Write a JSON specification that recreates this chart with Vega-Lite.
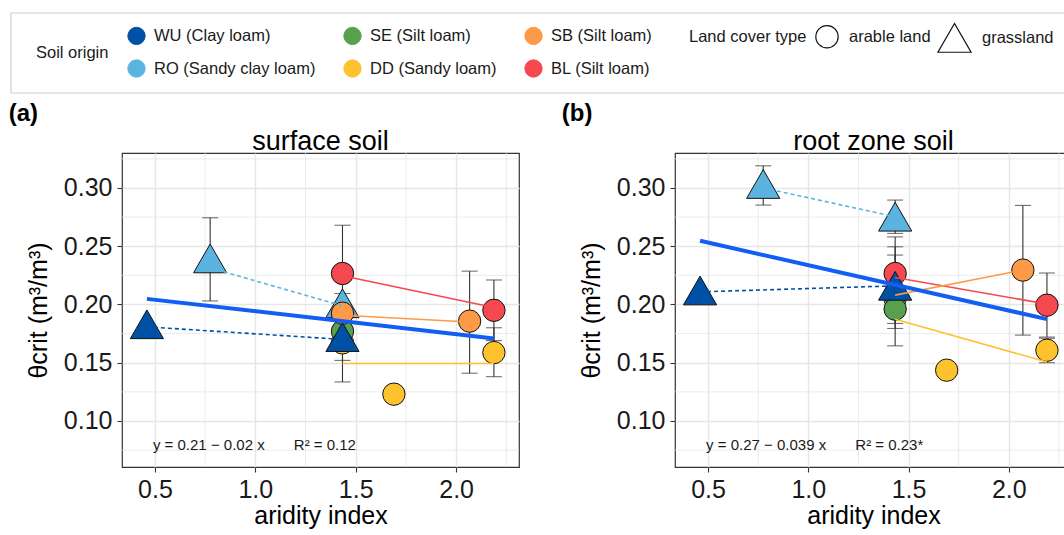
{
  "$schema": "https://vega.github.io/schema/vega-lite/v6.json",
  "background": "white",
  "padding": {"left": 8, "top": 12, "right": 0, "bottom": 0},
  "config": {
    "font": "Liberation Sans",
    "view": {"stroke": "#333333", "strokeWidth": 1.2},
    "axis": {
      "labelFont": "Liberation Sans", "labelFontSize": 25, "labelColor": "#1a1a1a", "labelOverlap": false,
      "titleFont": "Liberation Sans", "titleFontSize": 25, "titleFontWeight": "normal", "titleColor": "#000000",
      "tickColor": "#333333", "tickSize": 5, "tickWidth": 1.1, "domain": false,
      "gridColor": "#e6e6e6", "gridWidth": 1.4, "labelPadding": 5
    },
    "legend": {
      "labelFont": "Liberation Sans", "titleFont": "Liberation Sans",
      "labelFontSize": 16.5, "titleFontSize": 16.5, "titleFontWeight": "normal",
      "labelColor": "#1a1a1a", "titleColor": "#1a1a1a", "labelLimit": 300
    },
    "title": {"font": "Liberation Sans", "fontWeight": "normal", "color": "#000000"}
  },
  "datasets": {
    "gx": [{"g": 0.75}, {"g": 1.25}, {"g": 1.75}, {"g": 2.25}],
    "gy": [{"g": 0.075}, {"g": 0.125}, {"g": 0.175}, {"g": 0.225}, {"g": 0.275}, {"g": 0.325}],
    "pts": [
      {"panel": "a", "soil": "WU (Clay loam)", "cover": "grassland", "ai": 0.46, "theta": 0.183, "lo": null, "hi": null},
      {"panel": "a", "soil": "RO (Sandy clay loam)", "cover": "grassland", "ai": 0.775, "theta": 0.2395, "lo": 0.203, "hi": 0.2744},
      {"panel": "a", "soil": "DD (Sandy loam)", "cover": "arable land", "ai": 1.434, "theta": 0.167, "lo": 0.1335, "hi": 0.2},
      {"panel": "a", "soil": "SE (Silt loam)", "cover": "arable land", "ai": 1.434, "theta": 0.177, "lo": 0.17, "hi": 0.184},
      {"panel": "a", "soil": "RO (Sandy clay loam)", "cover": "grassland", "ai": 1.434, "theta": 0.201, "lo": 0.193, "hi": 0.2094},
      {"panel": "a", "soil": "SB (Silt loam)", "cover": "arable land", "ai": 1.434, "theta": 0.1925, "lo": 0.185, "hi": 0.2},
      {"panel": "a", "soil": "BL (Silt loam)", "cover": "arable land", "ai": 1.434, "theta": 0.2266, "lo": 0.186, "hi": 0.268},
      {"panel": "a", "soil": "WU (Clay loam)", "cover": "grassland", "ai": 1.434, "theta": 0.172, "lo": 0.152, "hi": 0.192},
      {"panel": "a", "soil": "DD (Sandy loam)", "cover": "arable land", "ai": 1.69, "theta": 0.123, "lo": null, "hi": null},
      {"panel": "a", "soil": "SB (Silt loam)", "cover": "arable land", "ai": 2.067, "theta": 0.1857, "lo": 0.141, "hi": 0.2286},
      {"panel": "a", "soil": "BL (Silt loam)", "cover": "arable land", "ai": 2.188, "theta": 0.195, "lo": 0.169, "hi": 0.221},
      {"panel": "a", "soil": "DD (Sandy loam)", "cover": "arable land", "ai": 2.188, "theta": 0.1587, "lo": 0.138, "hi": 0.18},
      {"panel": "b", "soil": "WU (Clay loam)", "cover": "grassland", "ai": 0.46, "theta": 0.212, "lo": null, "hi": null},
      {"panel": "b", "soil": "RO (Sandy clay loam)", "cover": "grassland", "ai": 0.775, "theta": 0.3034, "lo": 0.2853, "hi": 0.319},
      {"panel": "b", "soil": "DD (Sandy loam)", "cover": "arable land", "ai": 1.433, "theta": 0.205, "lo": 0.19, "hi": 0.22},
      {"panel": "b", "soil": "SB (Silt loam)", "cover": "arable land", "ai": 1.433, "theta": 0.208, "lo": 0.1794, "hi": 0.2424},
      {"panel": "b", "soil": "SE (Silt loam)", "cover": "arable land", "ai": 1.433, "theta": 0.196, "lo": 0.1645, "hi": 0.227},
      {"panel": "b", "soil": "BL (Silt loam)", "cover": "arable land", "ai": 1.433, "theta": 0.2266, "lo": 0.195, "hi": 0.258},
      {"panel": "b", "soil": "RO (Sandy clay loam)", "cover": "grassland", "ai": 1.433, "theta": 0.2753, "lo": 0.261, "hi": 0.2896},
      {"panel": "b", "soil": "WU (Clay loam)", "cover": "grassland", "ai": 1.433, "theta": 0.216, "lo": 0.1837, "hi": 0.2495},
      {"panel": "b", "soil": "DD (Sandy loam)", "cover": "arable land", "ai": 1.69, "theta": 0.1436, "lo": null, "hi": null},
      {"panel": "b", "soil": "SB (Silt loam)", "cover": "arable land", "ai": 2.07, "theta": 0.2295, "lo": 0.1737, "hi": 0.285},
      {"panel": "b", "soil": "BL (Silt loam)", "cover": "arable land", "ai": 2.19, "theta": 0.1994, "lo": 0.172, "hi": 0.227},
      {"panel": "b", "soil": "DD (Sandy loam)", "cover": "arable land", "ai": 2.19, "theta": 0.1607, "lo": 0.15, "hi": 0.171}
    ],
    "lns": [
      {"panel": "a", "soil": "RO (Sandy clay loam)", "landcover": "grassland", "ai": 0.775, "theta": 0.2314},
      {"panel": "a", "soil": "RO (Sandy clay loam)", "landcover": "grassland", "ai": 1.434, "theta": 0.1988},
      {"panel": "a", "soil": "WU (Clay loam)", "landcover": "grassland", "ai": 0.46, "theta": 0.1808},
      {"panel": "a", "soil": "WU (Clay loam)", "landcover": "grassland", "ai": 1.434, "theta": 0.170},
      {"panel": "a", "soil": "BL (Silt loam)", "landcover": "arable land", "ai": 1.434, "theta": 0.2246},
      {"panel": "a", "soil": "BL (Silt loam)", "landcover": "arable land", "ai": 2.188, "theta": 0.1974},
      {"panel": "a", "soil": "SB (Silt loam)", "landcover": "arable land", "ai": 1.434, "theta": 0.1908},
      {"panel": "a", "soil": "SB (Silt loam)", "landcover": "arable land", "ai": 2.067, "theta": 0.185},
      {"panel": "a", "soil": "DD (Sandy loam)", "landcover": "arable land", "ai": 1.434, "theta": 0.1493},
      {"panel": "a", "soil": "DD (Sandy loam)", "landcover": "arable land", "ai": 2.188, "theta": 0.1493},
      {"panel": "b", "soil": "RO (Sandy clay loam)", "landcover": "grassland", "ai": 0.775, "theta": 0.300},
      {"panel": "b", "soil": "RO (Sandy clay loam)", "landcover": "grassland", "ai": 1.433, "theta": 0.2753},
      {"panel": "b", "soil": "WU (Clay loam)", "landcover": "grassland", "ai": 0.46, "theta": 0.2108},
      {"panel": "b", "soil": "WU (Clay loam)", "landcover": "grassland", "ai": 1.433, "theta": 0.216},
      {"panel": "b", "soil": "BL (Silt loam)", "landcover": "arable land", "ai": 1.433, "theta": 0.2232},
      {"panel": "b", "soil": "BL (Silt loam)", "landcover": "arable land", "ai": 2.19, "theta": 0.2003},
      {"panel": "b", "soil": "SB (Silt loam)", "landcover": "arable land", "ai": 1.433, "theta": 0.208},
      {"panel": "b", "soil": "SB (Silt loam)", "landcover": "arable land", "ai": 2.07, "theta": 0.2295},
      {"panel": "b", "soil": "DD (Sandy loam)", "landcover": "arable land", "ai": 1.433, "theta": 0.1874},
      {"panel": "b", "soil": "DD (Sandy loam)", "landcover": "arable land", "ai": 2.19, "theta": 0.1506}
    ],
    "fits": [
      {"panel": "a", "ai": 0.46, "theta": 0.2048},
      {"panel": "a", "ai": 2.188, "theta": 0.1708},
      {"panel": "b", "ai": 0.46, "theta": 0.2547},
      {"panel": "b", "ai": 2.19, "theta": 0.1874}
    ],
    "eqs": [
      {"panel": "a", "label": "y = 0.21 − 0.02 x\u00a0\u00a0\u00a0\u00a0\u00a0\u00a0\u00a0R² = 0.12", "ai": 0.49, "theta": 0.0795},
      {"panel": "b", "label": "y = 0.27 − 0.039 x\u00a0\u00a0\u00a0\u00a0\u00a0\u00a0\u00a0R² = 0.23*", "ai": 0.49, "theta": 0.0795}
    ]
  },
  "spacing": 8,
  "vconcat": [
    {
      "width": 949, "height": 80,
      "view": {"stroke": null},
      "data": {"values": [{"k": 1}]},
      "mark": {"type": "rect", "fill": "white", "fillOpacity": 0, "stroke": "#cfcfcf", "strokeWidth": 1.2, "clip": false},
      "encoding": {
        "x": {"datum": -0.117, "type": "quantitative", "scale": {"domain": [0, 1], "nice": false, "zero": false}, "axis": null},
        "x2": {"datum": 1},
        "y": {"datum": 0, "type": "quantitative", "scale": {"domain": [0, 1], "nice": false, "zero": false}, "axis": null},
        "y2": {"datum": 1}
      }
    },
    {
      "spacing": 41,
      "hconcat": [
        {
          "title": {"text": "(a)", "anchor": "start", "fontSize": 24, "fontWeight": "bold", "dx": -17, "offset": 1},
          "vconcat": [
            {
              "title": {"text": "surface soil", "anchor": "middle", "fontSize": 27, "offset": -3},
              "width": 397, "height": 314,
              "layer": [
                {
                  "data": {"name": "gx"},
                  "mark": {"type": "rule", "color": "#e6e6e6", "strokeWidth": 0.8},
                  "encoding": {
                    "x": {"field": "g", "type": "quantitative", "scale": {"domain": [0.336, 2.313], "nice": false, "zero": false},
                      "axis": {"values": [0.5, 1, 1.5, 2], "format": ".1f", "title": "aridity index", "titlePadding": 1}}
                  }
                },
                {
                  "data": {"name": "gy"},
                  "mark": {"type": "rule", "color": "#e6e6e6", "strokeWidth": 0.8},
                  "encoding": {
                    "y": {"field": "g", "type": "quantitative", "scale": {"domain": [0.0605, 0.33], "nice": false, "zero": false},
                      "axis": {"values": [0.1, 0.15, 0.2, 0.25, 0.3], "format": ".2f", "title": "θcrit (m³/m³)", "titlePadding": 12}}
                  }
                },
                {
                  "data": {"name": "pts"},
                  "transform": [{"filter": "datum.panel == 'a' && isValid(datum.lo)"}],
                  "mark": {"type": "rule", "color": "#333333", "strokeWidth": 1.1},
                  "encoding": {"x": {"field": "ai", "type": "quantitative"}, "y": {"field": "lo", "type": "quantitative"}, "y2": {"field": "hi"}}
                },
                {
                  "data": {"name": "pts"},
                  "transform": [{"filter": "datum.panel == 'a' && isValid(datum.lo)"}],
                  "mark": {"type": "tick", "orient": "horizontal", "color": "#333333", "size": 16, "thickness": 1.1},
                  "encoding": {"x": {"field": "ai", "type": "quantitative"}, "y": {"field": "lo", "type": "quantitative"}}
                },
                {
                  "data": {"name": "pts"},
                  "transform": [{"filter": "datum.panel == 'a' && isValid(datum.hi)"}],
                  "mark": {"type": "tick", "orient": "horizontal", "color": "#333333", "size": 16, "thickness": 1.1},
                  "encoding": {"x": {"field": "ai", "type": "quantitative"}, "y": {"field": "hi", "type": "quantitative"}}
                },
                {
                  "data": {"name": "pts"},
                  "transform": [{"filter": "datum.panel == 'a'"}],
                  "mark": {"type": "point", "filled": true, "stroke": "#111111", "strokeWidth": 1, "opacity": 1},
                  "encoding": {
                    "x": {"field": "ai", "type": "quantitative"},
                    "y": {"field": "theta", "type": "quantitative"},
                    "fill": {"field": "soil", "type": "nominal",
                      "scale": {"domain": ["WU (Clay loam)", "SE (Silt loam)", "SB (Silt loam)", "RO (Sandy clay loam)", "DD (Sandy loam)", "BL (Silt loam)"],
                        "range": ["#0051a5", "#57a14e", "#fd9a47", "#5bb4e0", "#fdc22d", "#f5484f"]},
                      "legend": {"title": "Soil origin", "orient": "none", "legendX": -86, "legendY": 13, "direction": "horizontal", "columns": 3, "gridAlign": "each",
                        "titleOrient": "left", "titlePadding": 18, "symbolType": "circle", "symbolSize": 300, "symbolStrokeColor": "#111111", "symbolStrokeWidth": 1,
                        "rowPadding": 10, "columnPadding": 25, "labelOffset": 8}},
                    "shape": {"field": "cover", "type": "nominal", "scale": {"domain": ["arable land", "grassland"], "range": ["circle", "triangle-up"]},
                      "legend": {"title": "Land cover type", "orient": "none", "legendX": 567, "legendY": 7, "direction": "horizontal", "titleOrient": "left", "titlePadding": 8,
                        "symbolFillColor": "white", "symbolStrokeColor": "#111111", "symbolStrokeWidth": 1.2, "symbolDash": [], "columnPadding": 4, "labelOffset": 10}},
                    "size": {"field": "cover", "type": "nominal", "scale": {"domain": ["arable land", "grassland"], "range": [500, 1100]},
                      "legend": {"title": "Land cover type", "orient": "none", "legendX": 567, "legendY": 7, "direction": "horizontal", "titleOrient": "left", "titlePadding": 8,
                        "symbolFillColor": "white", "symbolStrokeColor": "#111111", "symbolStrokeWidth": 1.2, "symbolDash": [], "columnPadding": 4, "labelOffset": 10}}
                  }
                },
                {
                  "data": {"name": "lns"},
                  "transform": [{"filter": "datum.panel == 'a' && datum.landcover == 'arable land'"}],
                  "mark": {"type": "line", "strokeWidth": 1.6},
                  "encoding": {
                    "x": {"field": "ai", "type": "quantitative"},
                    "y": {"field": "theta", "type": "quantitative"},
                    "stroke": {"field": "soil", "type": "nominal", "legend": null,
                      "scale": {"domain": ["WU (Clay loam)", "SE (Silt loam)", "SB (Silt loam)", "RO (Sandy clay loam)", "DD (Sandy loam)", "BL (Silt loam)"],
                        "range": ["#0051a5", "#57a14e", "#fd9a47", "#5bb4e0", "#fdc22d", "#f5484f"]}}
                  }
                },
                {
                  "data": {"name": "lns"},
                  "transform": [{"filter": "datum.panel == 'a' && datum.landcover == 'grassland'"}],
                  "mark": {"type": "line", "strokeWidth": 1.6, "strokeDash": [4, 3]},
                  "encoding": {
                    "x": {"field": "ai", "type": "quantitative"},
                    "y": {"field": "theta", "type": "quantitative"},
                    "stroke": {"field": "soil", "type": "nominal", "legend": null,
                      "scale": {"domain": ["WU (Clay loam)", "SE (Silt loam)", "SB (Silt loam)", "RO (Sandy clay loam)", "DD (Sandy loam)", "BL (Silt loam)"],
                        "range": ["#0051a5", "#57a14e", "#fd9a47", "#5bb4e0", "#fdc22d", "#f5484f"]}}
                  }
                },
                {
                  "data": {"name": "fits"},
                  "transform": [{"filter": "datum.panel == 'a'"}],
                  "mark": {"type": "line", "strokeWidth": 4, "color": "#135ef2"},
                  "encoding": {"x": {"field": "ai", "type": "quantitative"}, "y": {"field": "theta", "type": "quantitative"}}
                },
                {
                  "data": {"name": "eqs"},
                  "transform": [{"filter": "datum.panel == 'a'"}],
                  "mark": {"type": "text", "align": "left", "baseline": "middle", "fontSize": 15, "color": "#1a1a1a", "font": "Liberation Sans"},
                  "encoding": {"x": {"field": "ai", "type": "quantitative"}, "y": {"field": "theta", "type": "quantitative"}, "text": {"field": "label"}}
                }
              ]
            }
          ]
        },
        {
          "title": {"text": "(b)", "anchor": "start", "fontSize": 24, "fontWeight": "bold", "dx": -17, "offset": 1},
          "vconcat": [
            {
              "title": {"text": "root zone soil", "anchor": "middle", "fontSize": 27, "offset": -3},
              "width": 397, "height": 314,
              "layer": [
                {
                  "data": {"name": "gx"},
                  "mark": {"type": "rule", "color": "#e6e6e6", "strokeWidth": 0.8},
                  "encoding": {
                    "x": {"field": "g", "type": "quantitative", "scale": {"domain": [0.335, 2.315], "nice": false, "zero": false},
                      "axis": {"values": [0.5, 1, 1.5, 2], "format": ".1f", "title": "aridity index", "titlePadding": 1}}
                  }
                },
                {
                  "data": {"name": "gy"},
                  "mark": {"type": "rule", "color": "#e6e6e6", "strokeWidth": 0.8},
                  "encoding": {
                    "y": {"field": "g", "type": "quantitative", "scale": {"domain": [0.0605, 0.33], "nice": false, "zero": false},
                      "axis": {"values": [0.1, 0.15, 0.2, 0.25, 0.3], "format": ".2f", "title": "θcrit (m³/m³)", "titlePadding": 12}}
                  }
                },
                {
                  "data": {"name": "pts"},
                  "transform": [{"filter": "datum.panel == 'b' && isValid(datum.lo)"}],
                  "mark": {"type": "rule", "color": "#333333", "strokeWidth": 1.1},
                  "encoding": {"x": {"field": "ai", "type": "quantitative"}, "y": {"field": "lo", "type": "quantitative"}, "y2": {"field": "hi"}}
                },
                {
                  "data": {"name": "pts"},
                  "transform": [{"filter": "datum.panel == 'b' && isValid(datum.lo)"}],
                  "mark": {"type": "tick", "orient": "horizontal", "color": "#333333", "size": 16, "thickness": 1.1},
                  "encoding": {"x": {"field": "ai", "type": "quantitative"}, "y": {"field": "lo", "type": "quantitative"}}
                },
                {
                  "data": {"name": "pts"},
                  "transform": [{"filter": "datum.panel == 'b' && isValid(datum.hi)"}],
                  "mark": {"type": "tick", "orient": "horizontal", "color": "#333333", "size": 16, "thickness": 1.1},
                  "encoding": {"x": {"field": "ai", "type": "quantitative"}, "y": {"field": "hi", "type": "quantitative"}}
                },
                {
                  "data": {"name": "pts"},
                  "transform": [{"filter": "datum.panel == 'b'"}],
                  "mark": {"type": "point", "filled": true, "stroke": "#111111", "strokeWidth": 1, "opacity": 1},
                  "encoding": {
                    "x": {"field": "ai", "type": "quantitative"},
                    "y": {"field": "theta", "type": "quantitative"},
                    "fill": {"field": "soil", "type": "nominal",
                      "scale": {"domain": ["WU (Clay loam)", "SE (Silt loam)", "SB (Silt loam)", "RO (Sandy clay loam)", "DD (Sandy loam)", "BL (Silt loam)"],
                        "range": ["#0051a5", "#57a14e", "#fd9a47", "#5bb4e0", "#fdc22d", "#f5484f"]},
                      "legend": {"title": "Soil origin", "orient": "none", "legendX": -86, "legendY": 13, "direction": "horizontal", "columns": 3, "gridAlign": "each",
                        "titleOrient": "left", "titlePadding": 18, "symbolType": "circle", "symbolSize": 300, "symbolStrokeColor": "#111111", "symbolStrokeWidth": 1,
                        "rowPadding": 10, "columnPadding": 25, "labelOffset": 8}},
                    "shape": {"field": "cover", "type": "nominal", "scale": {"domain": ["arable land", "grassland"], "range": ["circle", "triangle-up"]},
                      "legend": {"title": "Land cover type", "orient": "none", "legendX": 567, "legendY": 7, "direction": "horizontal", "titleOrient": "left", "titlePadding": 8,
                        "symbolFillColor": "white", "symbolStrokeColor": "#111111", "symbolStrokeWidth": 1.2, "symbolDash": [], "columnPadding": 4, "labelOffset": 10}},
                    "size": {"field": "cover", "type": "nominal", "scale": {"domain": ["arable land", "grassland"], "range": [500, 1100]},
                      "legend": {"title": "Land cover type", "orient": "none", "legendX": 567, "legendY": 7, "direction": "horizontal", "titleOrient": "left", "titlePadding": 8,
                        "symbolFillColor": "white", "symbolStrokeColor": "#111111", "symbolStrokeWidth": 1.2, "symbolDash": [], "columnPadding": 4, "labelOffset": 10}}
                  }
                },
                {
                  "data": {"name": "lns"},
                  "transform": [{"filter": "datum.panel == 'b' && datum.landcover == 'arable land'"}],
                  "mark": {"type": "line", "strokeWidth": 1.6},
                  "encoding": {
                    "x": {"field": "ai", "type": "quantitative"},
                    "y": {"field": "theta", "type": "quantitative"},
                    "stroke": {"field": "soil", "type": "nominal", "legend": null,
                      "scale": {"domain": ["WU (Clay loam)", "SE (Silt loam)", "SB (Silt loam)", "RO (Sandy clay loam)", "DD (Sandy loam)", "BL (Silt loam)"],
                        "range": ["#0051a5", "#57a14e", "#fd9a47", "#5bb4e0", "#fdc22d", "#f5484f"]}}
                  }
                },
                {
                  "data": {"name": "lns"},
                  "transform": [{"filter": "datum.panel == 'b' && datum.landcover == 'grassland'"}],
                  "mark": {"type": "line", "strokeWidth": 1.6, "strokeDash": [4, 3]},
                  "encoding": {
                    "x": {"field": "ai", "type": "quantitative"},
                    "y": {"field": "theta", "type": "quantitative"},
                    "stroke": {"field": "soil", "type": "nominal", "legend": null,
                      "scale": {"domain": ["WU (Clay loam)", "SE (Silt loam)", "SB (Silt loam)", "RO (Sandy clay loam)", "DD (Sandy loam)", "BL (Silt loam)"],
                        "range": ["#0051a5", "#57a14e", "#fd9a47", "#5bb4e0", "#fdc22d", "#f5484f"]}}
                  }
                },
                {
                  "data": {"name": "fits"},
                  "transform": [{"filter": "datum.panel == 'b'"}],
                  "mark": {"type": "line", "strokeWidth": 4, "color": "#135ef2"},
                  "encoding": {"x": {"field": "ai", "type": "quantitative"}, "y": {"field": "theta", "type": "quantitative"}}
                },
                {
                  "data": {"name": "eqs"},
                  "transform": [{"filter": "datum.panel == 'b'"}],
                  "mark": {"type": "text", "align": "left", "baseline": "middle", "fontSize": 15, "color": "#1a1a1a", "font": "Liberation Sans"},
                  "encoding": {"x": {"field": "ai", "type": "quantitative"}, "y": {"field": "theta", "type": "quantitative"}, "text": {"field": "label"}}
                }
              ]
            }
          ]
        }
      ]
    }
  ]
}
